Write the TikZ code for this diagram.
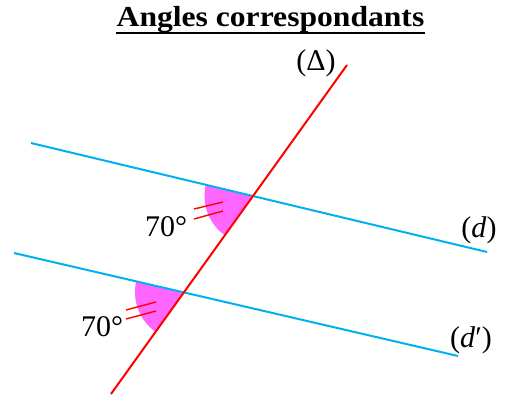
\documentclass[tikz,border=0pt]{standalone}
\usepackage{fontspec}
\setmainfont{Liberation Serif}
\definecolor{lineblue}{RGB}{0,176,240}
\definecolor{wedge}{RGB}{255,102,255}
\begin{document}
\begin{tikzpicture}[x=1pt,y=-1pt,
  parline/.style={lineblue,line width=2pt},
  secant/.style={red,line width=2pt},
  tick/.style={red,line width=1.4pt},
  lab/.style={font=\fontsize{30}{32}\selectfont,inner sep=0pt}]
\useasboundingbox (0,0) rectangle (505,396);
\coordinate (T1) at (347,65);
\coordinate (T2) at (111,394);
\coordinate (D1) at (31,143);
\coordinate (D2) at (487,252);
\coordinate (E1) at (14,253);
\coordinate (E2) at (458,356);
\coordinate (I1) at (252.5,196);
\coordinate (I2) at (184,292);
% wedges
\fill[wedge] (I1) -- ++(193.4:48) arc[start angle=193.4,end angle=125.7,radius=48] -- cycle;
\fill[wedge] (I2) -- ++(193.1:49) arc[start angle=193.1,end angle=125.7,radius=49] -- cycle;
% lines
\draw[parline] (D1) -- (D2);
\draw[parline] (E1) -- (E2);
\draw[secant] (T1) -- (T2);
% ticks
\draw[tick] (194,209) -- (223,202);
\draw[tick] (194,219) -- (223,211);
\draw[tick] (126,310) -- (156,302);
\draw[tick] (126,319) -- (156,311);
% labels
\node[lab] (a1) at (166,227) {70°};
\node[lab] (a2) at (102,327) {70°};
\node[lab] (delta) at (316,63) {(Δ)};
\node[lab] (d) at (479,230) {(\textit{d})};
\node[lab] (dp) at (471,340) {(\textit{d}′)};
\node[font=\bfseries\fontsize{29}{32}\selectfont,inner sep=0pt,anchor=base] (title) at (270.5,27) {\scalebox{1.09}[1]{Angles correspondants}};
\draw[line width=2pt] (title.west |- 0,33) -- (title.east |- 0,33);
\end{tikzpicture}
\end{document}
